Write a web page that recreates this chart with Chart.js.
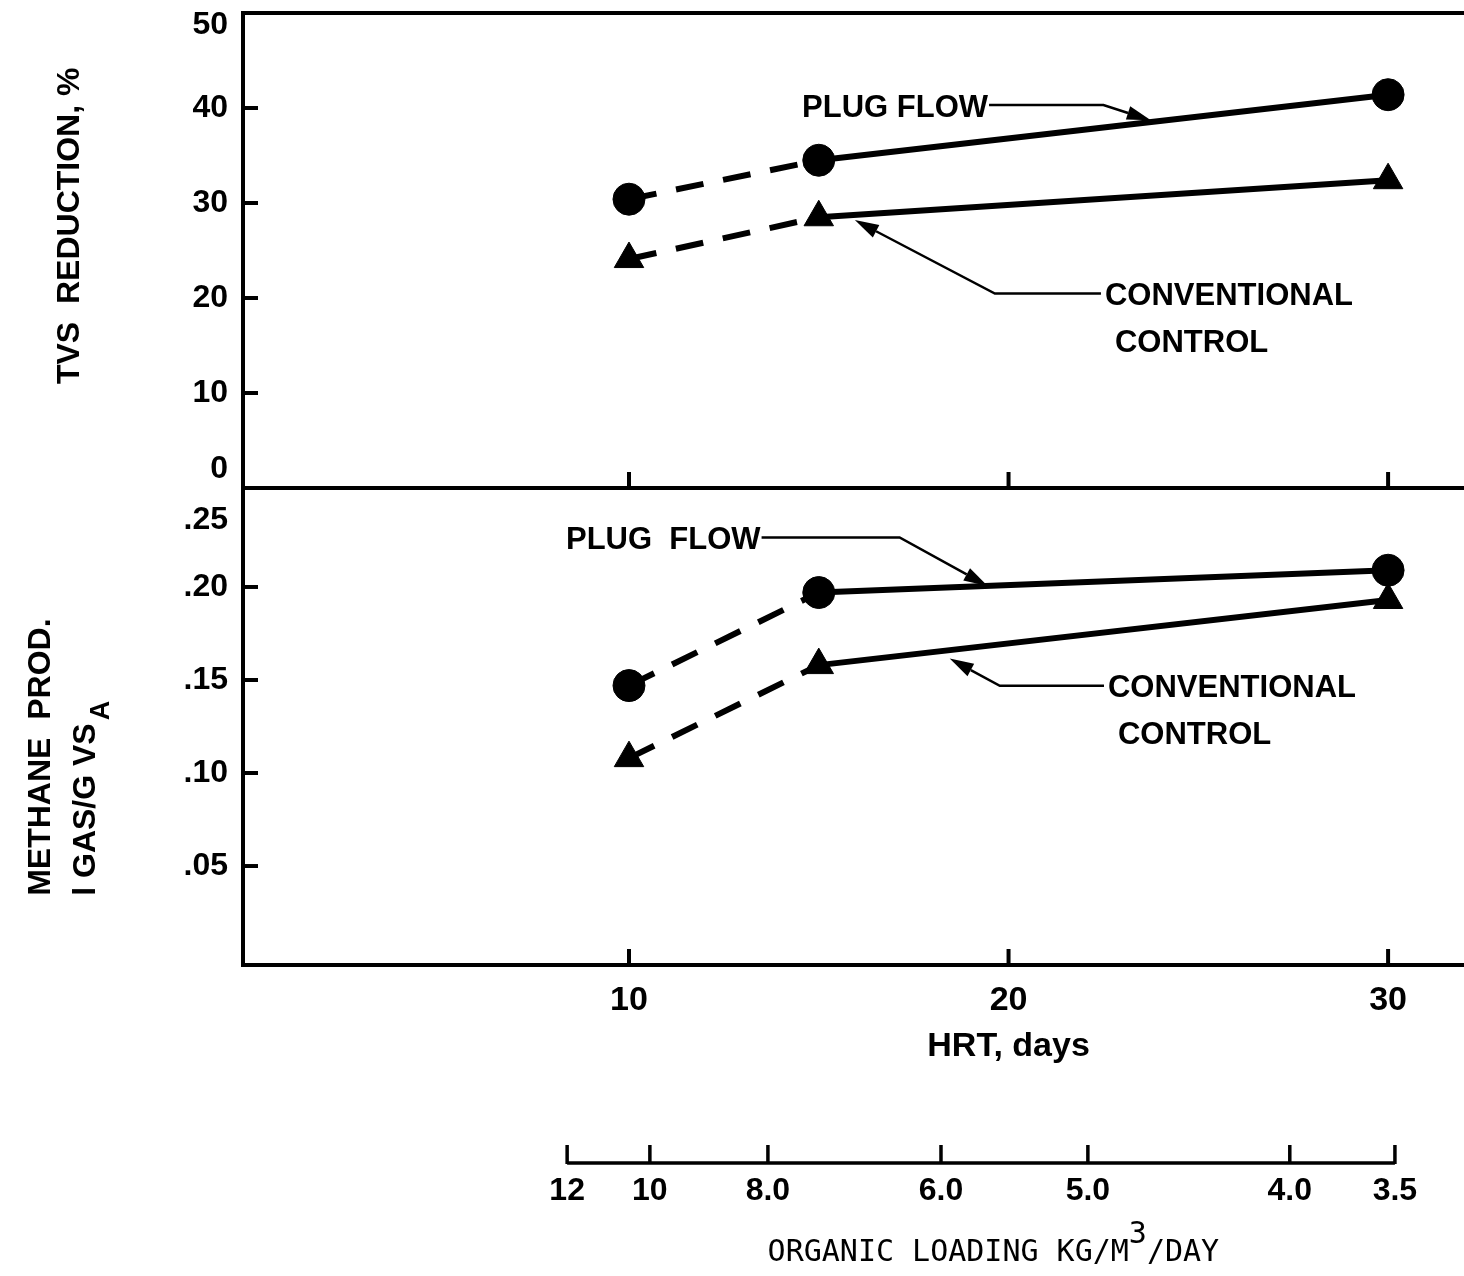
<!DOCTYPE html>
<html>
<head>
<meta charset="utf-8">
<script src="https://cdn.jsdelivr.net/npm/chart.js@4.4.1/dist/chart.umd.min.js"></script>
<style>
  html, body { margin: 0; padding: 0; background: #fff; }
  #chart_container { width: 1464px; height: 1276px; position: relative; }
</style>
</head>
<body>
<div id="chart_container"><canvas id="myChart"></canvas></div>
<script>
/* data */
const hrtDays = [10, 15, 30];
const tvsPlugFlow = [30.4, 34.5, 41.4];
const tvsConventional = [24.1, 28.5, 32.4];
const methanePlugFlow = [0.147, 0.197, 0.209];
const methaneConventional = [0.108, 0.158, 0.193];

/* axis ticks */
const hrtTicks = [10, 20, 30];
const tvsTicks = [0, 10, 20, 30, 40, 50];
const methaneTicks = [0.05, 0.10, 0.15, 0.20, 0.25];
const methaneTickLabels = ['.05', '.10', '.15', '.20', '.25'];
const loadingLabels = ['12', '10', '8.0', '6.0', '5.0', '4.0', '3.5'];
const loadingAtHrt = [8.37, 10.55, 13.66, 18.22, 22.09, 27.41, 30.18];

const FONT = '"Liberation Sans", Arial, sans-serif';
const BLACK = '#000';

function points(ys) {
    return hrtDays.map((x, i) => ({x: x, y: ys[i]}));
}

/* first segment of every series is dashed */
const dashFirst = {
    borderDash: ctx => ctx.p0DataIndex === 0 ? [28, 20] : []
};

function series(label, ys, axis, style, radius) {
    return {
        label: label,
        data: points(ys),
        yAxisID: axis,
        xAxisID: 'x',
        borderColor: BLACK,
        backgroundColor: BLACK,
        borderWidth: 6,
        pointStyle: style,
        pointRadius: radius,
        pointBorderWidth: 1,
        segment: dashFirst
    };
}

/* no extra room for end labels, the boxes are sized by hand */
function noPad(sc) {
    sc.paddingTop = 0;
    sc.paddingBottom = 0;
    sc.paddingLeft = 0;
    sc.paddingRight = 0;
}

/* arrow from a list of pixel points, head on the last point */
function leader(ctx, pts) {
    const n = pts.length;
    const tip = pts[n - 1], prev = pts[n - 2];
    const dx = tip[0] - prev[0], dy = tip[1] - prev[1];
    const len = Math.hypot(dx, dy), ux = dx / len, uy = dy / len;
    const headLen = 24, half = 7;
    const bx = tip[0] - ux * headLen, by = tip[1] - uy * headLen;
    ctx.lineWidth = 2.5;
    ctx.beginPath();
    ctx.moveTo(pts[0][0], pts[0][1]);
    for (let i = 1; i < n - 1; i++) ctx.lineTo(pts[i][0], pts[i][1]);
    ctx.lineTo(bx, by);
    ctx.stroke();
    ctx.beginPath();
    ctx.moveTo(tip[0], tip[1]);
    ctx.lineTo(bx - uy * half, by + ux * half);
    ctx.lineTo(bx + uy * half, by - ux * half);
    ctx.closePath();
    ctx.fill();
}

/* labels with leader arrows, in data units of each panel */
const notes = [
    {axis: 'yTop', lines: ['PLUG FLOW'], at: [14.56, 40.0], side: 'right', path: [[22.5, 40.3], [23.75, 38.7]]},
    {axis: 'yTop', lines: ['CONVENTIONAL', 'CONTROL'], at: [22.54, 20.15], side: 'left', path: [[19.64, 20.4], [15.95, 28.2]]},
    {axis: 'yBot', lines: ['PLUG  FLOW'], at: [8.34, 0.225], side: 'right', path: [[17.13, 0.2265], [19.45, 0.2005]]},
    {axis: 'yBot', lines: ['CONVENTIONAL', 'CONTROL'], at: [22.62, 0.1453], side: 'left', path: [[19.77, 0.1465], [18.45, 0.1615]]}
];

const drawing = {
    id: 'drawing',
    afterDraw(chart) {
        const ctx = chart.ctx, a = chart.chartArea, s = chart.scales;
        const x = s.x, yt = s.yTop, yb = s.yBot, xl = s.xLoad;
        ctx.save();
        ctx.strokeStyle = BLACK;
        ctx.fillStyle = BLACK;

        /* top border and the line between the panels */
        ctx.lineWidth = 4;
        [yt.getPixelForValue(50), yt.getPixelForValue(0)].forEach(py => {
            ctx.beginPath();
            ctx.moveTo(a.left - 2, py);
            ctx.lineTo(a.right, py);
            ctx.stroke();
        });

        /* inward tick marks */
        ctx.lineWidth = 4;
        tvsTicks.slice(1, -1).forEach(v => {
            const py = yt.getPixelForValue(v);
            ctx.beginPath(); ctx.moveTo(a.left, py); ctx.lineTo(a.left + 15, py); ctx.stroke();
        });
        methaneTicks.slice(0, -1).forEach(v => {
            const py = yb.getPixelForValue(v);
            ctx.beginPath(); ctx.moveTo(a.left, py); ctx.lineTo(a.left + 15, py); ctx.stroke();
        });
        hrtTicks.forEach(v => {
            const px = x.getPixelForValue(v);
            [yt.getPixelForValue(0), a.bottom].forEach(py => {
                ctx.beginPath(); ctx.moveTo(px, py); ctx.lineTo(px, py - 16); ctx.stroke();
            });
        });

        /* end labels of the value axes sit inside the panel */
        ctx.font = 'bold 32px ' + FONT;
        ctx.textAlign = 'right';
        ctx.textBaseline = 'middle';
        ctx.fillText('50', a.left - 15, yt.getPixelForValue(50) + 12);
        ctx.fillText('0', a.left - 15, yt.getPixelForValue(0) - 19);
        ctx.fillText(methaneTickLabels[methaneTickLabels.length - 1], a.left - 15, yb.getPixelForValue(0.25) + 26);

        /* HRT axis title, centred under 20 days */
        ctx.font = 'bold 34px ' + FONT;
        ctx.textAlign = 'center';
        ctx.fillText('HRT, days', x.getPixelForValue(20), x.top + 82);

        /* organic loading scale */
        const ly = xl.top + 73;
        const lx0 = xl.getPixelForValue(loadingAtHrt[0]);
        const lx1 = xl.getPixelForValue(loadingAtHrt[loadingAtHrt.length - 1]);
        ctx.lineWidth = 3.5;
        ctx.beginPath(); ctx.moveTo(lx0, ly); ctx.lineTo(lx1, ly); ctx.stroke();
        loadingAtHrt.forEach(v => {
            const px = xl.getPixelForValue(v);
            ctx.beginPath(); ctx.moveTo(px, ly + 1); ctx.lineTo(px, ly - 18); ctx.stroke();
        });
        ctx.font = '30px "DejaVu Sans Mono", monospace';
        ctx.textAlign = 'left';
        ctx.textBaseline = 'alphabetic';
        const t1 = 'ORGANIC LOADING KG/M', t2 = '3', t3 = '/DAY';
        const w1 = ctx.measureText(t1).width, w2 = ctx.measureText(t2).width, w3 = ctx.measureText(t3).width;
        const tx = x.getPixelForValue(19.6) - (w1 + w2 + w3) / 2, ty = xl.top + 171;
        ctx.fillText(t1, tx, ty);
        ctx.fillText(t2, tx + w1, ty - 18);
        ctx.fillText(t3, tx + w1 + w2, ty);

        /* value axis titles */
        ctx.font = 'bold 32px ' + FONT;
        ctx.save();
        ctx.translate(70, yt.getPixelForValue(27.6));
        ctx.rotate(-Math.PI / 2);
        ctx.textAlign = 'center';
        ctx.textBaseline = 'middle';
        ctx.fillText('TVS  REDUCTION, %', 0, 0);
        ctx.restore();

        ctx.save();
        ctx.translate(41, yb.getPixelForValue(0.034));
        ctx.rotate(-Math.PI / 2);
        ctx.textAlign = 'left';
        ctx.textBaseline = 'middle';
        ctx.fillText('METHANE  PROD.', 0, 0);
        ctx.restore();

        ctx.save();
        ctx.translate(86, yb.getPixelForValue(0.034));
        ctx.rotate(-Math.PI / 2);
        ctx.textAlign = 'left';
        ctx.textBaseline = 'middle';
        const l2 = 'l GAS/G VS';
        ctx.fillText(l2, 0, 0);
        const wl = ctx.measureText(l2).width;
        ctx.font = 'bold 27px ' + FONT;
        ctx.fillText('A', wl + 3, 16);
        ctx.restore();

        /* series labels with arrows */
        ctx.font = 'bold 31px ' + FONT;
        ctx.textBaseline = 'middle';
        ctx.textAlign = 'left';
        notes.forEach(n => {
            const ys = s[n.axis];
            const px = x.getPixelForValue(n.at[0]);
            const py = ys.getPixelForValue(n.at[1]);
            n.lines.forEach((t, i) => ctx.fillText(t, px + (i ? 10 : 0), py + i * 47));
            const w = ctx.measureText(n.lines[0]).width;
            const start = n.side === 'right' ? [px + w + 1, py - 3] : [px - 4, py - 3];
            const pts = [start].concat(n.path.map(p => [x.getPixelForValue(p[0]), ys.getPixelForValue(p[1])]));
            pts[1][1] = start[1];
            leader(ctx, pts);
        });
        ctx.restore();
    }
};

const ctx = document.getElementById('myChart').getContext('2d');
const myChart = new Chart(ctx, {
    type: 'line',
    data: {
        datasets: [
            series('TVS plug flow', tvsPlugFlow, 'yTop', 'circle', 16),
            series('TVS conventional control', tvsConventional, 'yTop', 'triangle', 17),
            series('Methane plug flow', methanePlugFlow, 'yBot', 'circle', 16),
            series('Methane conventional control', methaneConventional, 'yBot', 'triangle', 17)
        ]
    },
    options: {
        responsive: true,
        maintainAspectRatio: false,
        animation: false,
        layout: {autoPadding: false, padding: {top: 13, left: 0, right: 0, bottom: 0}},
        plugins: {
            legend: {display: false},
            tooltip: {enabled: false}
        },
        scales: {
            x: {
                type: 'linear',
                position: 'bottom',
                min: -0.17,
                max: 32,
                afterBuildTicks: sc => { sc.ticks = hrtTicks.map(v => ({value: v})); },
                afterFit: sc => { sc.height = 125; noPad(sc); },
                grid: {display: false, drawTicks: false},
                border: {display: true, color: BLACK, width: 4},
                ticks: {
                    autoSkip: false,
                    maxRotation: 0,
                    padding: 15,
                    color: BLACK,
                    font: {family: FONT, size: 34, weight: 'bold'}
                }
            },
            xLoad: {
                type: 'linear',
                position: 'bottom',
                min: -0.17,
                max: 32,
                afterBuildTicks: sc => { sc.ticks = loadingAtHrt.map(v => ({value: v})); },
                afterFit: sc => { sc.height = 186; noPad(sc); },
                grid: {display: false, drawTicks: false},
                border: {display: false},
                ticks: {
                    autoSkip: false,
                    maxRotation: 0,
                    padding: 82,
                    color: BLACK,
                    font: {family: FONT, size: 32, weight: 'bold'},
                    callback: (v, i) => loadingLabels[i]
                }
            },
            yBot: {
                type: 'linear',
                position: 'left',
                stack: 'panels',
                stackWeight: 477,
                min: -0.0032,
                max: 0.2532,
                afterBuildTicks: sc => { sc.ticks = methaneTicks.map(v => ({value: v})); },
                afterFit: sc => { sc.width = 243; noPad(sc); },
                grid: {display: false, drawTicks: false},
                border: {display: true, color: BLACK, width: 4},
                ticks: {
                    autoSkip: false,
                    padding: 15,
                    color: BLACK,
                    font: {family: FONT, size: 32, weight: 'bold'},
                    callback: (v, i) => i === methaneTicks.length - 1 ? '' : methaneTickLabels[i]
                }
            },
            yTop: {
                type: 'linear',
                position: 'left',
                stack: 'panels',
                stackWeight: 475,
                min: 0,
                max: 50,
                afterBuildTicks: sc => { sc.ticks = tvsTicks.map(v => ({value: v})); },
                afterFit: sc => { sc.width = 243; noPad(sc); },
                grid: {display: false, drawTicks: false},
                border: {display: true, color: BLACK, width: 4},
                ticks: {
                    autoSkip: false,
                    padding: 15,
                    color: BLACK,
                    font: {family: FONT, size: 32, weight: 'bold'},
                    callback: v => (v === 0 || v === 50) ? '' : String(v)
                }
            }
        }
    },
    plugins: [drawing]
});
</script>
</body>
</html>
